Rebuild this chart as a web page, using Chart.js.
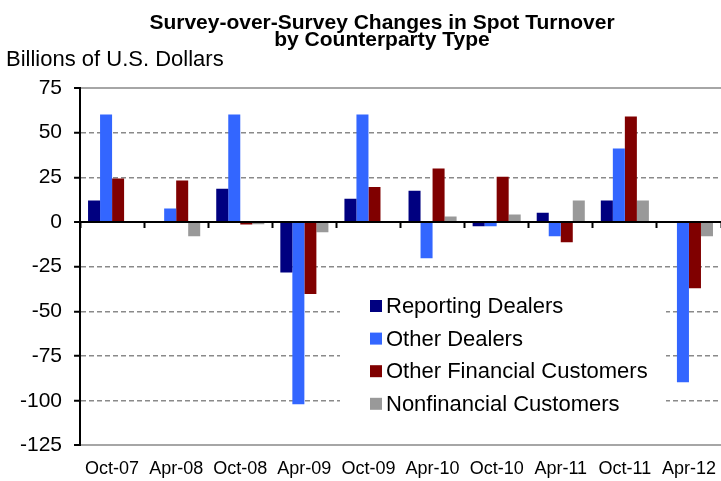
<!DOCTYPE html>
<html>
<head>
<meta charset="utf-8">
<script src="https://cdn.jsdelivr.net/npm/chart.js@4.4.1/dist/chart.umd.min.js"></script>
<style>
  html, body { margin: 0; padding: 0; background: #fff; }
  #wrap { position: relative; width: 721px; height: 481px; }
</style>
</head>
<body>
<div id="wrap"><canvas id="spotChart"></canvas></div>
<script>
// --- Data ---
const periods = ['Oct-07', 'Apr-08', 'Oct-08', 'Apr-09', 'Oct-09', 'Apr-10', 'Oct-10', 'Apr-11', 'Oct-11', 'Apr-12'];
const reportingDealers = [12, -0.5, 18.6, -28.2, 13, 17.5, -2.3, 5.2, 12, -0.5];
const otherDealers = [60.2, 7.6, 60.2, -102, 60.2, -20.3, -2.3, -8, 41.1, -89.6];
const otherFinancialCustomers = [24.3, 23.3, -1.4, -40.3, 19.6, 29.9, 25.4, -11.3, 59.1, -37];
const nonfinancialCustomers = [0, -8, -1.2, -5.7, 0, 3.1, 4.2, 12, 12, -8];
const seriesNames = ['Reporting Dealers', 'Other Dealers', 'Other Financial Customers', 'Nonfinancial Customers'];
const seriesColors = ['#000080', '#3366ff', '#800000', '#999999'];
const titleLines = ['Survey-over-Survey Changes in Spot Turnover', 'by Counterparty Type'];
const unitLabel = 'Billions of U.S. Dollars';

const FONT = '"Liberation Sans", Arial, sans-serif';

// --- Titles and in-plot legend ---
const textPlugin = {
    id: 'textPlugin',
    afterDraw(chart) {
        const ctx = chart.ctx;
        ctx.save();
        ctx.fillStyle = '#000';
        ctx.textBaseline = 'alphabetic';
        ctx.textAlign = 'center';
        ctx.font = 'bold 21px ' + FONT;
        ctx.fillText(titleLines[0], 382, 29);
        ctx.fillText(titleLines[1], 382, 46);
        ctx.textAlign = 'left';
        ctx.font = '22px ' + FONT;
        ctx.fillText(unitLabel, 6, 66);
        ctx.restore();
    },
    afterDatasetsDraw(chart) {
        const ctx = chart.ctx;
        ctx.save();
        ctx.fillStyle = '#fff';
        ctx.fillRect(340, 286, 326, 136);
        ctx.font = '22px ' + FONT;
        ctx.textBaseline = 'middle';
        ctx.textAlign = 'left';
        chart.data.datasets.forEach((ds, i) => {
            const cy = 306 + i * 32.6;
            ctx.fillStyle = ds.backgroundColor;
            ctx.fillRect(370, cy - 6, 12, 12);
            ctx.fillStyle = '#000';
            ctx.fillText(ds.label, 386, cy + 1);
        });
        ctx.restore();
    }
};

const seriesData = [reportingDealers, otherDealers, otherFinancialCustomers, nonfinancialCustomers];

const ctx = document.getElementById('spotChart').getContext('2d');
const spotChart = new Chart(ctx, {
    type: 'bar',
    data: {
        labels: periods,
        datasets: seriesNames.map((name, i) => ({
            label: name,
            data: seriesData[i],
            backgroundColor: seriesColors[i],
            borderWidth: 0,
            categoryPercentage: 0.75,
            barPercentage: 1.0
        }))
    },
    options: {
        responsive: true,
        maintainAspectRatio: false,
        animation: false,
        layout: {
            padding: { top: 88, left: 8, right: -4, bottom: -1 }
        },
        plugins: {
            legend: { display: false },
            title: { display: false },
            tooltip: { enabled: false }
        },
        scales: {
            x: {
                position: 'bottom',
                offset: true,
                // hidden grid, tick length only used as spacing above the labels
                grid: { display: false, drawTicks: true, tickLength: 11 },
                border: { display: false },
                ticks: {
                    color: '#000',
                    font: { family: FONT, size: 18 },
                    padding: 2,
                    maxRotation: 0,
                    autoSkip: false
                }
            },
            // zero axis carrying the small downward tick marks
            x0: {
                type: 'category',
                position: { y: 0 },
                offset: true,
                grid: {
                    offset: true,
                    drawOnChartArea: false,
                    drawTicks: true,
                    tickLength: 6,
                    tickColor: '#000',
                    tickWidth: 2
                },
                border: { display: false },
                ticks: { display: false }
            },
            y: {
                min: -125,
                max: 75,
                ticks: {
                    stepSize: 25,
                    color: '#000',
                    font: { family: FONT, size: 21 },
                    padding: 12
                },
                grid: {
                    color: (c) => {
                        const v = c.tick ? c.tick.value : null;
                        if (v === 0) return '#000';
                        if (v === 75 || v === -125) return '#a6a6a6';
                        return '#8a8a8a';
                    },
                    lineWidth: (c) => (c.tick && (c.tick.value === 0 || c.tick.value === 75 || c.tick.value === -125)) ? 2 : 1.5,
                    drawTicks: true,
                    tickLength: 6,
                    tickColor: '#000',
                    tickWidth: 2
                },
                border: {
                    display: true,
                    color: '#000',
                    width: 2,
                    dash: (c) => {
                        const v = c.tick ? c.tick.value : null;
                        return (v === 0 || v === 75 || v === -125) ? [] : [5, 3];
                    }
                }
            }
        }
    },
    plugins: [textPlugin]
});
</script>
</body>
</html>
